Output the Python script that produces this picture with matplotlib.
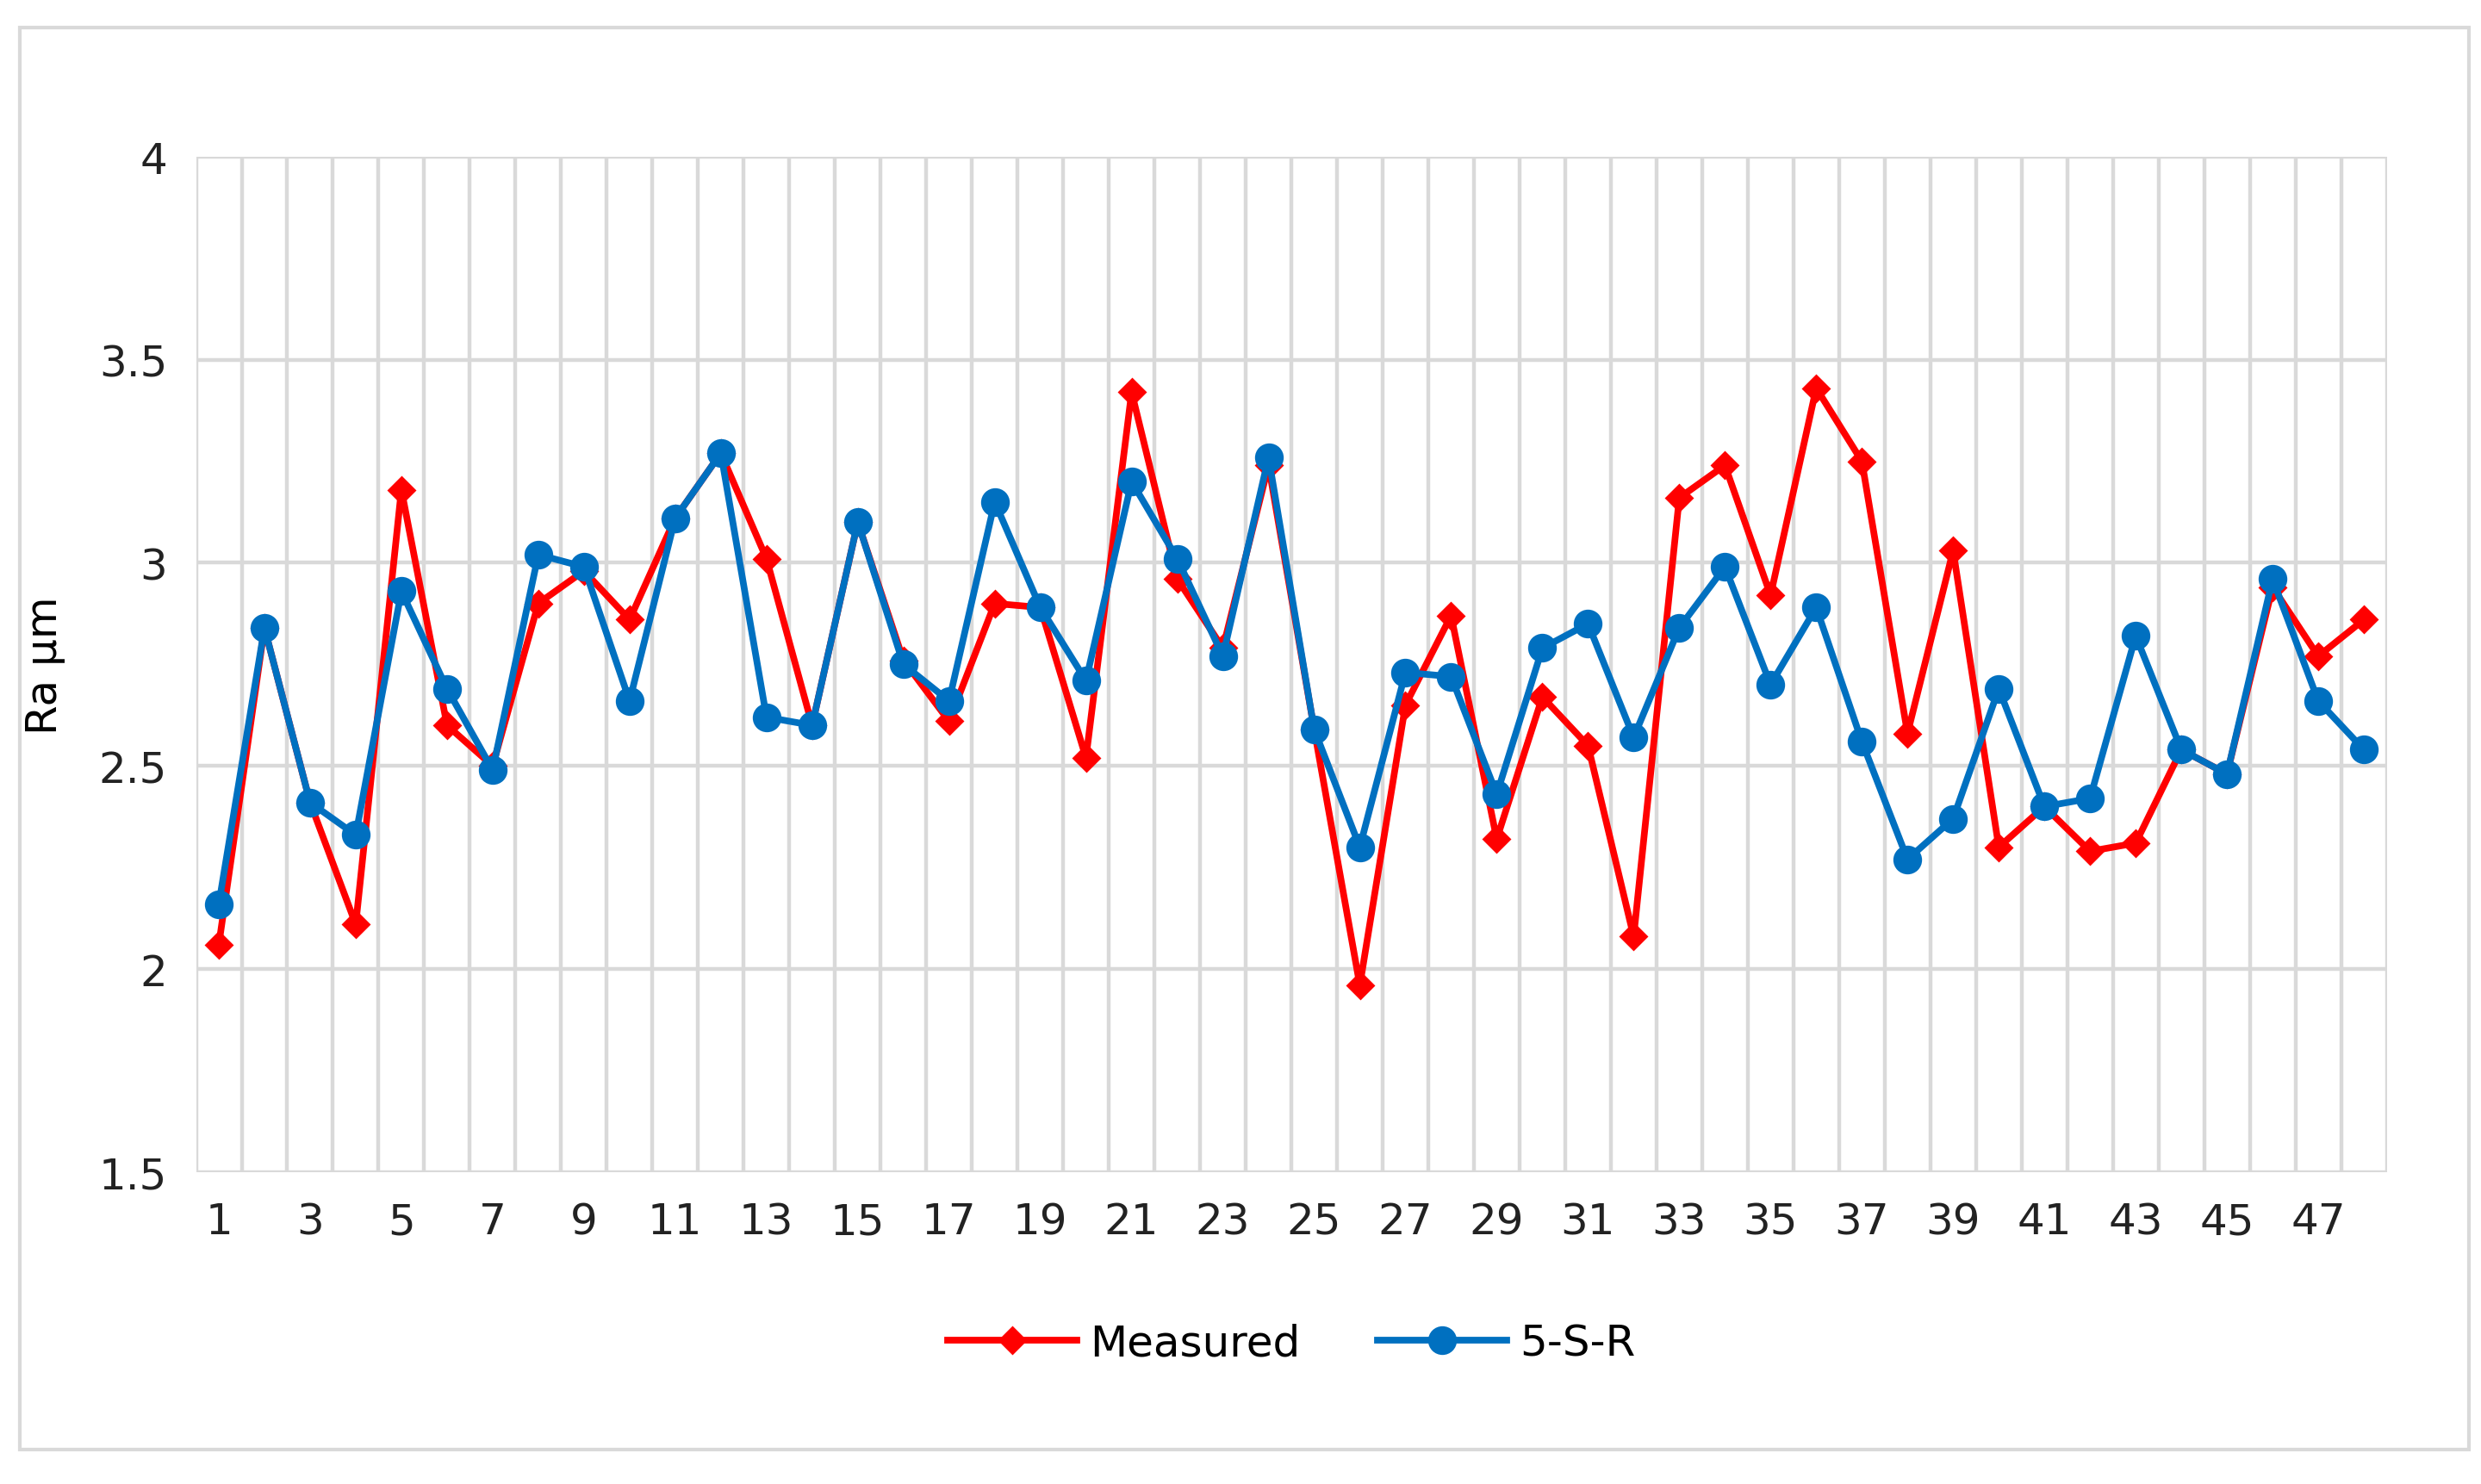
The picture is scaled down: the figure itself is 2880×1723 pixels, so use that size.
import matplotlib
matplotlib.use("Agg")
import matplotlib.pyplot as plt
from matplotlib.patches import Rectangle

x = list(range(1, 49))
measured = [2.06,2.84,2.41,2.11,3.18,2.60,2.50,2.90,2.98,2.86,3.11,3.27,3.01,2.60,3.10,2.76,2.61,2.90,2.89,2.52,
            3.42,2.96,2.79,3.24,2.59,1.96,2.65,2.87,2.32,2.67,2.55,2.08,3.16,3.24,2.92,3.43,3.25,2.58,3.03,2.30,
            2.40,2.29,2.31,2.54,2.48,2.94,2.77,2.86]
ssr = [2.16,2.84,2.41,2.33,2.93,2.69,2.49,3.02,2.99,2.66,3.11,3.27,2.62,2.60,3.10,2.75,2.66,3.15,2.89,2.71,
       3.20,3.01,2.77,3.26,2.59,2.30,2.73,2.72,2.43,2.79,2.85,2.57,2.84,2.99,2.70,2.89,2.56,2.27,2.37,2.69,
       2.40,2.42,2.82,2.54,2.48,2.96,2.66,2.54]
yticks = [1.5, 2, 2.5, 3, 3.5, 4]

fig = plt.figure(figsize=(14.4, 8.62), dpi=200)
fig.patches.append(Rectangle((0.008, 0.023), 0.987, 0.958, transform=fig.transFigure,
                             fill=False, edgecolor="#d9d9d9", linewidth=1.5))
ax = fig.add_axes([0.079, 0.21, 0.883, 0.684])
ax.set_xlim(0.5, 48.5)
ax.set_ylim(1.5, 4)
for v in [i + 0.5 for i in range(0, 49)]:
    ax.axvline(v, color="#d9d9d9", lw=1.6, zorder=0)
for v in yticks:
    ax.axhline(v, color="#d9d9d9", lw=1.6, zorder=0)
ax.plot(x, measured, color="#ff0000", lw=2.8, marker="D", ms=7.5, label="Measured", zorder=3)
ax.plot(x, ssr, color="#0070c0", lw=2.8, marker="o", ms=11, label="5-S-R", zorder=4)
ax.set_xticks(list(range(1, 49, 2)))
ax.set_yticks(yticks)
ax.set_yticklabels(["1.5", "2", "2.5", "3", "3.5", "4"])
ax.tick_params(length=0, labelsize=18, colors="#222222", pad=12)
for s in ax.spines.values():
    s.set_visible(False)
ax.set_ylabel("Ra µm", fontsize=18, labelpad=14)
ax.legend(loc="upper center", bbox_to_anchor=(0.5, -0.11), ncol=2, frameon=False, fontsize=18,
          handlelength=3, handletextpad=0.3, columnspacing=1.8)
fig.savefig("out.png", dpi=200)
